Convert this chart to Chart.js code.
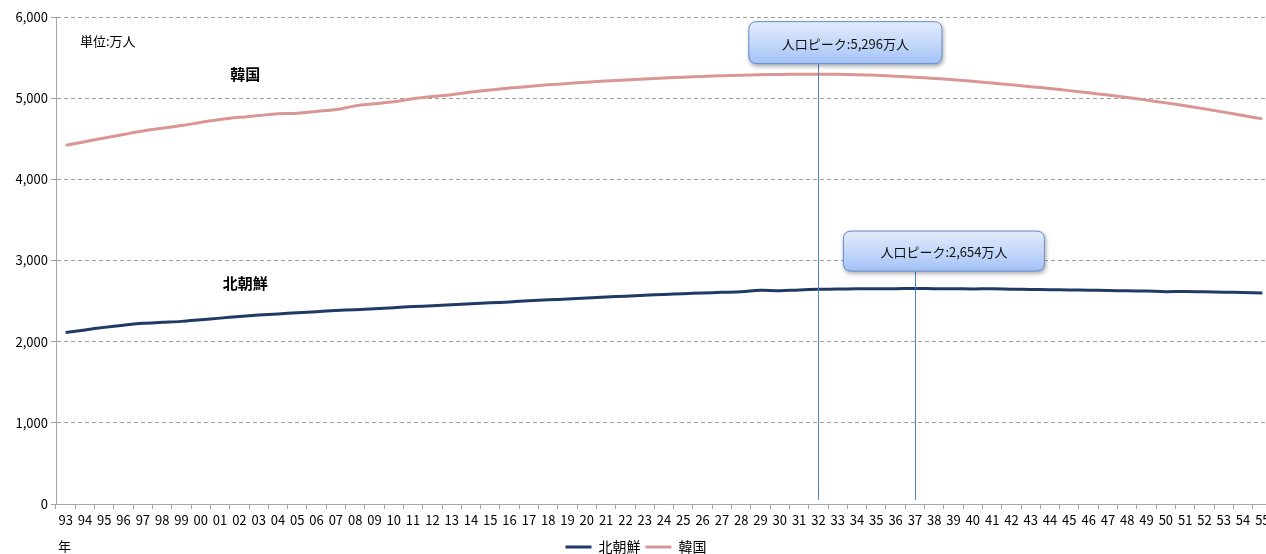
<!DOCTYPE html>
<html lang="ja">
<head>
<meta charset="utf-8">
<title>韓国・北朝鮮 人口推移</title>
<script src="https://cdn.jsdelivr.net/npm/chart.js@4.4.1/dist/chart.umd.min.js"></script>
<style>
  html, body { margin: 0; padding: 0; background: #fff; overflow: hidden; }
  #wrap { position: relative; width: 1276px; height: 554px; }
</style>
</head>
<body>
<div id="wrap"><canvas id="popChart"></canvas></div>
<script>
// ===== Data (万人) =====
const YEAR_LABELS = [
  "93","94","95","96","97","98","99","00","01","02","03","04","05","06","07","08","09","10","11","12",
  "13","14","15","16","17","18","19","20","21","22","23","24","25","26","27","28","29","30","31","32",
  "33","34","35","36","37","38","39","40","41","42","43","44","45","46","47","48","49","50","51","52",
  "53","54","55"
];

const NORTH_KOREA = [
  2112,2145,2176,2203,2226,2238,2250,2270,2290,2310,2328,2342,2356,2370,2384,2394,2405,2419,2432,2443,
  2454,2466,2478,2490,2503,2515,2526,2538,2550,2561,2572,2582,2591,2600,2608,2615,2632,2626,2638,2645,
  2648,2651,2652,2653,2654,2653,2652,2650,2651,2647,2644,2641,2637,2634,2630,2627,2623,2616,2619,2614,
  2610,2606,2601
];

const SOUTH_KOREA = [
  4419,4464,4509,4553,4595,4629,4662,4701,4737,4764,4786,4808,4814,4837,4860,4905,4931,4955,4994,5020,
  5043,5075,5102,5125,5145,5164,5181,5197,5211,5225,5237,5248,5259,5268,5276,5283,5288,5292,5295,5296,
  5294,5289,5281,5271,5258,5243,5226,5207,5186,5165,5142,5118,5093,5066,5039,5008,4976,4942,4906,4868,
  4828,4787,4745
];

const Y_TICKS = [0, 1000, 2000, 3000, 4000, 5000, 6000];

// peak callouts: which series / which year
const PEAKS = [
  { series: 1, year: "32", text: "人口ピーク:5,296万人", dx: 27, dy: -53, w: 194, h: 43 },
  { series: 0, year: "37", text: "人口ピーク:2,654万人", dx: 29, dy: -58, w: 202, h: 41 }
];

const FONT = "'Noto Sans CJK JP', 'Noto Sans', sans-serif";

// ===== helper: rounded rect =====
function roundRect(ctx, x, y, w, h, r) {
  ctx.beginPath();
  ctx.moveTo(x + r, y);
  ctx.lineTo(x + w - r, y);
  ctx.quadraticCurveTo(x + w, y, x + w, y + r);
  ctx.lineTo(x + w, y + h - r);
  ctx.quadraticCurveTo(x + w, y + h, x + w - r, y + h);
  ctx.lineTo(x + r, y + h);
  ctx.quadraticCurveTo(x, y + h, x, y + h - r);
  ctx.lineTo(x, y + r);
  ctx.quadraticCurveTo(x, y, x + r, y);
  ctx.closePath();
}

// ===== annotation plugin (callouts + free text) =====
const annotate = {
  id: "annotate",
  afterDatasetsDraw(chart) {
    const { ctx, chartArea, scales } = chart;
    const xs = scales.x, ys = scales.y;
    ctx.save();

    // unit & series names
    ctx.fillStyle = "#000";
    ctx.textBaseline = "middle";
    ctx.textAlign = "left";
    ctx.font = "13px " + FONT;
    ctx.fillText("単位:万人", chartArea.left + 24, 41);

    ctx.textAlign = "center";
    ctx.font = "bold 15px " + FONT;
    ctx.fillText("韓国", xs.getPixelForValue(9.3), ys.getPixelForValue(5290));
    ctx.fillText("北朝鮮", xs.getPixelForValue(9.3), ys.getPixelForValue(2720));

    // 年
    ctx.textAlign = "left";
    ctx.font = "13px " + FONT;
    ctx.fillText("年", chartArea.left + 2, 546);

    // peak callouts
    PEAKS.forEach(p => {
      const idx = YEAR_LABELS.indexOf(p.year);
      const val = chart.data.datasets[p.series].data[idx];
      const px = xs.getPixelForValue(idx);
      const py = ys.getPixelForValue(val);
      const bx = px + p.dx - p.w / 2;
      const by = py + p.dy;

      // leader line
      ctx.strokeStyle = "#4F81BD";
      ctx.lineWidth = 1;
      ctx.beginPath();
      ctx.moveTo(Math.round(px) + 0.5, by + p.h);
      ctx.lineTo(Math.round(px) + 0.5, chartArea.bottom - 4);
      ctx.stroke();

      // box with shadow
      ctx.save();
      ctx.shadowColor = "rgba(0,0,0,0.35)";
      ctx.shadowBlur = 4;
      ctx.shadowOffsetX = 1;
      ctx.shadowOffsetY = 2;
      const grad = ctx.createLinearGradient(0, by, 0, by + p.h);
      grad.addColorStop(0, "#E1EBFC");
      grad.addColorStop(0.5, "#C6D9FA");
      grad.addColorStop(1, "#A2C1F7");
      roundRect(ctx, bx, by, p.w, p.h, 8);
      ctx.fillStyle = grad;
      ctx.fill();
      ctx.restore();
      roundRect(ctx, bx + 0.5, by + 0.5, p.w - 1, p.h - 1, 8);
      ctx.strokeStyle = "#6A8DC4";
      ctx.lineWidth = 1;
      ctx.stroke();

      ctx.fillStyle = "#111";
      ctx.textAlign = "center";
      ctx.textBaseline = "middle";
      ctx.font = "13px " + FONT;
      ctx.fillText(p.text, bx + p.w / 2, by + p.h / 2 + 1);
    });

    ctx.restore();
  }
};

// ===== chart =====
const ctx = document.getElementById("popChart").getContext("2d");
new Chart(ctx, {
  type: "line",
  data: {
    labels: YEAR_LABELS,
    datasets: [
      {
        label: "北朝鮮",
        data: NORTH_KOREA,
        borderColor: "#1F3A64",
        backgroundColor: "#1F3A64",
        borderWidth: 3,
        pointRadius: 0,
        tension: 0.35
      },
      {
        label: "韓国",
        data: SOUTH_KOREA,
        borderColor: "#DA9694",
        backgroundColor: "#DA9694",
        borderWidth: 3,
        pointRadius: 0,
        tension: 0.35
      }
    ]
  },
  options: {
    responsive: true,
    maintainAspectRatio: false,
    animation: false,
    layout: { padding: { top: 17, right: 4, left: 0, bottom: -10 } },
    plugins: {
      legend: {
        position: "bottom",
        labels: {
          usePointStyle: true,
          pointStyle: "line",
          pointStyleWidth: 26,
          color: "#000",
          font: { family: FONT, size: 14 },
          padding: 5
        }
      },
      tooltip: { enabled: false }
    },
    scales: {
      x: {
        offset: true,
        grid: { offset: true, drawOnChartArea: false, drawTicks: true, tickLength: 5, color: "#A6A6A6" },
        border: { color: "#A6A6A6" },
        ticks: { color: "#000", font: { family: FONT, size: 13 }, maxRotation: 0, autoSkip: false, padding: 3 },
        afterFit(scale) { scale.height = 31; }
      },
      y: {
        min: 0,
        max: 6000,
        afterBuildTicks(scale) { scale.ticks = Y_TICKS.map(v => ({ value: v })); },
        grid: { color: "#9E9E9E", tickLength: 5, drawTicks: true },
        border: { display: true, color: "#A6A6A6", dash: [4, 3] },
        ticks: {
          color: "#000",
          font: { family: FONT, size: 13 },
          padding: 3,
          callback: v => v.toLocaleString("en-US")
        },
        afterFit(scale) { scale.width = 56; }
      }
    }
  },
  plugins: [annotate]
});
</script>
</body>
</html>
